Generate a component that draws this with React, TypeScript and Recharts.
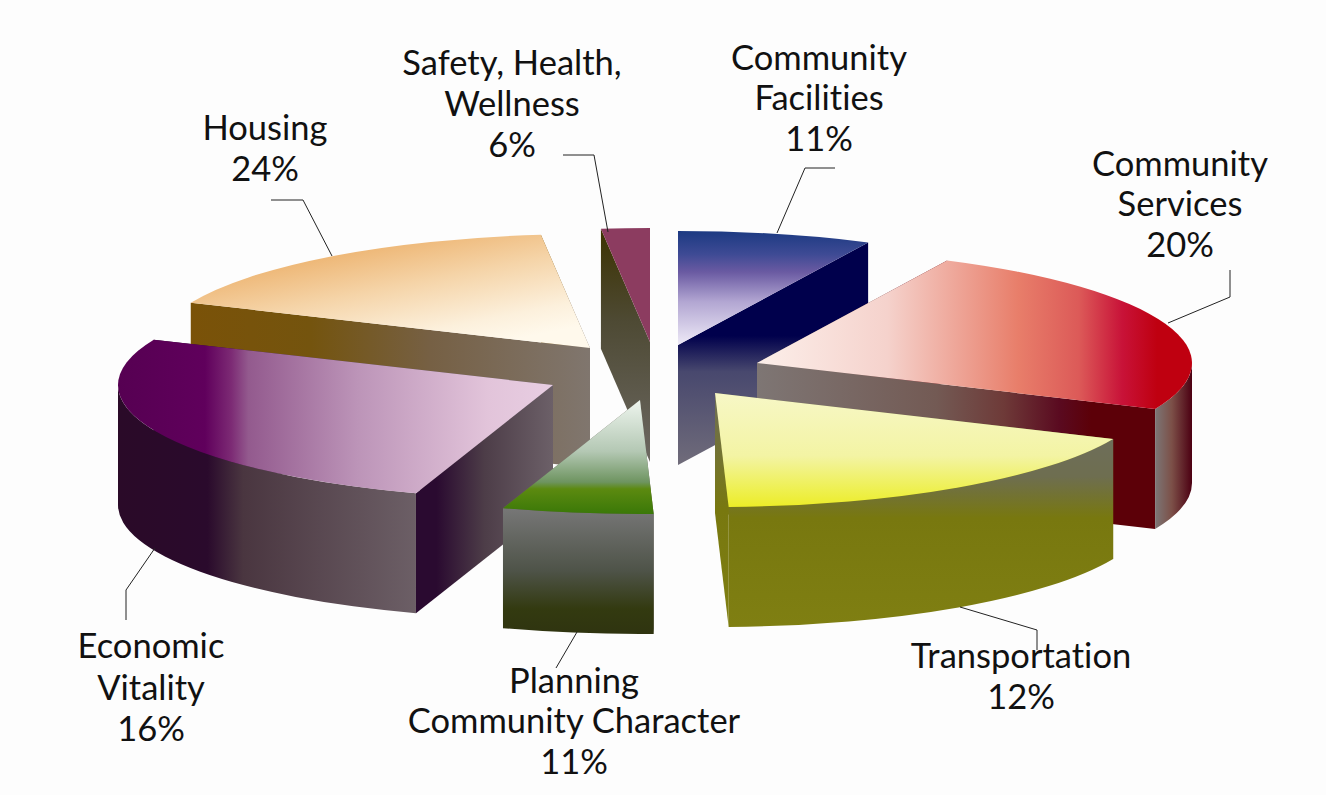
import React from "react";
import { Pie, PieChart } from "recharts";

// The printed percentages do not agree with the arcs in the source picture,
// so slices use the shares measured from the arcs and labels keep the printed text.
const rightNames = ["Community Facilities", "Community Services", "Transportation"];
const rightDrawnShare = [7.2, 24.4, 17.9];
const rightPrinted = ["11%", "20%", "12%"];

const leftNames = ["Safety, Health, Wellness", "Housing", "Economic Vitality", "Planning Community Character"];
const leftDrawnShare = [1.8, 16.7, 26.4, 5.6];
const leftPrinted = ["6%", "24%", "16%", "11%"];

const WIDTH = 1326;
const HEIGHT = 795;
const CX = 650;
const CY = 365;
const RADIUS = 435;
const SQUASH = 114 / 435;
const DEPTH = 120;
const FONT = "Lato, 'Open Sans', sans-serif";

type Stops = [number, string][];
type Fill = { dir: "h" | "v" | "d"; stops: Stops };
type SliceStyle = { apex: [number, number]; top: Fill; cut: Fill; outer: Fill };

const sliceStyles: Record<string, SliceStyle> = {
  "Community Facilities": {
    apex: [678, 345],
    top: { dir: "v", stops: [[0, "#1c3a82"], [0.2, "#3d4a94"], [0.36, "#6a5aa2"], [0.62, "#b2a6d2"], [1, "#eeeaf7"]] },
    cut: { dir: "v", stops: [[0, "#00004c"], [0.42, "#00004c"], [0.58, "#48486e"], [1, "#706c7a"]] },
    outer: { dir: "v", stops: [[0, "#00004c"], [1, "#00004c"]] },
  },
  "Community Services": {
    apex: [757, 363],
    top: { dir: "h", stops: [[0, "#fcefea"], [0.3, "#f5d2cc"], [0.6, "#e87e6a"], [0.74, "#dc5a58"], [0.84, "#c81238"], [0.92, "#bf0010"], [1, "#bf0010"]] },
    cut: { dir: "h", stops: [[0, "#7e7674"], [0.45, "#735a54"], [0.62, "#6e3a38"], [0.76, "#5a0a20"], [0.84, "#5c0008"], [1, "#5c0008"]] },
    outer: { dir: "h", stops: [[0, "#7c7676"], [0.45, "#7c5048"], [1, "#4c0012"]] },
  },
  Transportation: {
    apex: [715, 393],
    top: { dir: "v", stops: [[0, "#f7f7c6"], [0.55, "#f3f4a4"], [0.85, "#eef050"], [1, "#ecec28"]] },
    cut: { dir: "v", stops: [[0, "#6e6e58"], [0.5, "#78780f"], [1, "#7f7f12"]] },
    outer: { dir: "v", stops: [[0, "#6e6e5a"], [0.2, "#6e6e50"], [0.42, "#78780f"], [1, "#7f7f12"]] },
  },
  "Planning Community Character": {
    apex: [640, 400],
    top: { dir: "v", stops: [[0, "#eef5ee"], [0.45, "#b4c8b4"], [0.72, "#6e9460"], [0.78, "#5c8a10"], [1, "#3a7808"]] },
    cut: { dir: "v", stops: [[0, "#706c60"], [1, "#555046"]] },
    outer: { dir: "v", stops: [[0, "#777777"], [0.5, "#4e5348"], [0.8, "#333a10"], [1, "#2f3410"]] },
  },
  "Economic Vitality": {
    apex: [553, 385],
    top: { dir: "h", stops: [[0, "#560052"], [0.2, "#60005c"], [0.26, "#7c2a74"], [0.3, "#935a8e"], [0.55, "#bc94b8"], [0.85, "#e2c4da"], [1, "#e8cee2"]] },
    cut: { dir: "h", stops: [[0, "#2a0a30"], [0.15, "#2a0a30"], [0.5, "#4d3d48"], [1, "#6c6068"]] },
    outer: { dir: "h", stops: [[0, "#2a0a28"], [0.3, "#2a0a2c"], [0.42, "#4a3640"], [1, "#6c5f66"]] },
  },
  Housing: {
    apex: [590, 348],
    top: { dir: "d", stops: [[0.22, "#ecb06a"], [0.55, "#f5d4a8"], [0.85, "#fcf0dc"], [1, "#fff9ec"]] },
    cut: { dir: "h", stops: [[0, "#7a5208"], [0.3, "#74540e"], [0.6, "#766044"], [1, "#80766e"]] },
    outer: { dir: "h", stops: [[0, "#7a5208"], [1, "#7a5208"]] },
  },
  "Safety, Health, Wellness": {
    apex: [650, 342],
    top: { dir: "v", stops: [[0, "#8c3c60"], [1, "#8c3c60"]] },
    cut: { dir: "v", stops: [[0, "#3c3200"], [0.4, "#4e4a34"], [1, "#6c6862"]] },
    outer: { dir: "v", stops: [[0, "#3c3200"], [1, "#3c3200"]] },
  },
};

// text lines with their baseline, and the leader line
type LabelSpot = { x: number; lines: [string, number][]; leader: [number, number][] };
const labelSpots: Record<string, LabelSpot> = {
  "Community Facilities": {
    x: 819,
    lines: [["Community", 70], ["Facilities", 110]],
    leader: [[835, 168], [805, 168], [777, 233]],
  },
  "Community Services": {
    x: 1180,
    lines: [["Community", 176], ["Services", 216]],
    leader: [[1230, 270], [1230, 297], [1168, 323]],
  },
  Transportation: {
    x: 1021,
    lines: [["Transportation", 668]],
    leader: [[960, 607], [1037, 630], [1037, 650]],
  },
  "Planning Community Character": {
    x: 574,
    lines: [["Planning", 693], ["Community Character", 733]],
    leader: [[577, 632], [556, 668]],
  },
  "Economic Vitality": {
    x: 151,
    lines: [["Economic", 658], ["Vitality", 700]],
    leader: [[155, 548], [126, 590], [126, 620]],
  },
  Housing: {
    x: 265,
    lines: [["Housing", 140]],
    leader: [[271, 200], [303, 200], [332, 256]],
  },
  "Safety, Health, Wellness": {
    x: 512,
    lines: [["Safety, Health,", 75], ["Wellness", 116]],
    leader: [[563, 155], [594, 155], [608, 232]],
  },
};

function sum(values: number[]) {
  return values.reduce((total, value) => total + value, 0);
}

function gradient(id: string, fill: Fill) {
  const end = fill.dir === "h" ? { x2: "100%", y2: "0%" } : fill.dir === "v" ? { x2: "0%", y2: "100%" } : { x2: "70%", y2: "100%" };
  return (
    <linearGradient id={id} x1="0%" y1="0%" {...end}>
      {fill.stops.map(([offset, color]) => (
        <stop key={offset} offset={offset} stopColor={color} />
      ))}
    </linearGradient>
  );
}

// draws one exploded slice as a flattened top with walls below it
function Slice3D(props: any) {
  const name: string = props.name ?? props.payload?.name;
  const style = sliceStyles[name];
  const rx = props.outerRadius;
  const ry = rx * SQUASH;
  const [ax, ay] = style.apex;
  let lo = Math.min(props.startAngle, props.endAngle);
  let hi = Math.max(props.startAngle, props.endAngle);
  if (lo < 0) {
    lo += 360;
    hi += 360;
  }
  const at = (deg: number, drop = 0) => {
    const rad = (deg * Math.PI) / 180;
    return `${ax + rx * Math.cos(rad)} ${ay - ry * Math.sin(rad) + drop}`;
  };
  const id = name.replace(/[^a-zA-Z]/g, "");
  const top = `M${ax} ${ay} L${at(hi)} A${rx} ${ry} 0 0 1 ${at(lo)} Z`;
  const side = (deg: number) => `M${ax} ${ay} L${at(deg)} L${at(deg, DEPTH)} L${ax} ${ay + DEPTH} Z`;
  const wallLo = Math.max(lo, 180);
  const wallHi = Math.min(hi, 360);
  // the radial wall further back goes first
  const depthOf = (deg: number) => -Math.sin((deg * Math.PI) / 180);
  const [backEdge, frontEdge] = depthOf(lo) < depthOf(hi) ? [lo, hi] : [hi, lo];
  return (
    <g>
      <defs>
        {gradient(`${id}-top`, style.top)}
        {gradient(`${id}-cut`, style.cut)}
        {gradient(`${id}-outer`, style.outer)}
      </defs>
      <path d={side(backEdge)} fill={`url(#${id}-cut)`} />
      <path d={side(frontEdge)} fill={`url(#${id}-cut)`} />
      {wallHi > wallLo && (
        <path
          d={`M${at(wallHi)} A${rx} ${ry} 0 0 1 ${at(wallLo)} L${at(wallLo, DEPTH)} A${rx} ${ry} 0 0 0 ${at(wallHi, DEPTH)} Z`}
          fill={`url(#${id}-outer)`}
        />
      )}
      <path d={top} fill={`url(#${id}-top)`} />
    </g>
  );
}

function sliceLabel(printed: string[], names: string[]) {
  return (props: any) => {
    const name: string = props.name ?? props.payload?.name;
    const spot = labelSpots[name];
    const lastLine = spot.lines[spot.lines.length - 1][1];
    return (
      <g key={name}>
        <polyline
          points={spot.leader.map((p) => p.join(",")).join(" ")}
          fill="none"
          stroke="#222222"
          strokeWidth={1}
        />
        <text
          x={spot.x}
          textAnchor="middle"
          fontFamily={FONT}
          fontSize={34.5}
          fill="#111111"
          style={{ fontVariantLigatures: "none" }}
        >
          {spot.lines.map(([line, y]) => (
            <tspan key={line} x={spot.x} y={y}>
              {line}
            </tspan>
          ))}
          <tspan x={spot.x} y={lastLine + 41}>
            {printed[names.indexOf(name)]}
          </tspan>
        </text>
      </g>
    );
  };
}

const rightData = rightNames.map((name, i) => ({ name, value: rightDrawnShare[i] }));
const leftData = leftNames.map((name, i) => ({ name, value: leftDrawnShare[i] }));

export default function App() {
  const total = sum(rightDrawnShare) + sum(leftDrawnShare);
  const rightSweep = (sum(rightDrawnShare) / total) * 360;
  const leftSweep = (sum(leftDrawnShare) / total) * 360;

  return (
    <div style={{ position: "absolute", left: 0, top: 0, width: WIDTH, height: HEIGHT, background: "#fdfdfd" }}>
      <PieChart width={WIDTH} height={HEIGHT} margin={{ top: 0, right: 0, bottom: 0, left: 0 }}>
        <Pie
          data={leftData}
          dataKey="value"
          nameKey="name"
          cx={CX}
          cy={CY}
          outerRadius={RADIUS}
          startAngle={90}
          endAngle={90 + leftSweep}
          stroke="none"
          shape={Slice3D}
          inactiveShape={Slice3D}
          label={sliceLabel(leftPrinted, leftNames)}
          labelLine={false}
          isAnimationActive={false}
        />
        <Pie
          data={rightData}
          dataKey="value"
          nameKey="name"
          cx={CX}
          cy={CY}
          outerRadius={RADIUS}
          startAngle={90}
          endAngle={90 - rightSweep}
          stroke="none"
          shape={Slice3D}
          inactiveShape={Slice3D}
          label={sliceLabel(rightPrinted, rightNames)}
          labelLine={false}
          isAnimationActive={false}
        />
      </PieChart>
    </div>
  );
}
